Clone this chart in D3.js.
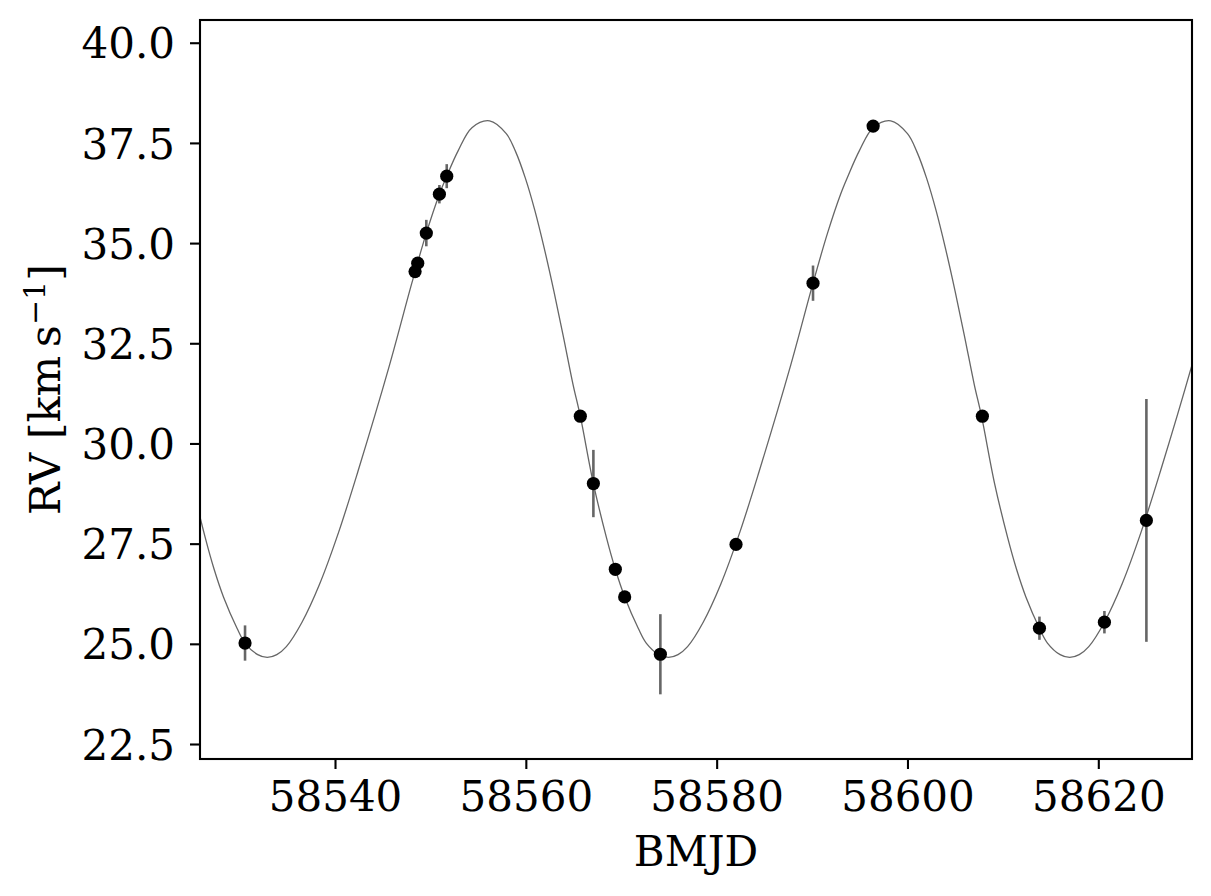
<!DOCTYPE html>
<html>
<head>
<meta charset="utf-8">
<script src="https://cdn.jsdelivr.net/npm/d3@7"></script>
<style>
  body { margin: 0; background: #fff; }
  svg { display: block; }
  text { font-family: "DejaVu Serif", serif; fill: #000; }
</style>
</head>
<body>
<div id="chart"></div>
<script>
// observations
const bmjd = [58530.57, 58548.39, 58548.67, 58549.57, 58550.94, 58551.71, 58565.71, 58567.08, 58569.38,
              58570.36, 58574.10, 58582.03, 58590.10, 58596.40, 58607.85, 58613.83, 58620.64, 58625.04];
const rv   = [25.02, 34.29, 34.50, 35.25, 36.22, 36.67, 30.68, 29.00, 26.86,
              26.17, 24.74, 27.48, 34.00, 37.92, 30.68, 25.39, 25.54, 28.08];
const rvErr = [0.44, 0.10, 0.10, 0.33, 0.23, 0.30, 0.10, 0.84, 0.08,
               0.08, 1.00, 0.08, 0.44, 0.10, 0.10, 0.29, 0.28, 3.03];

// model curve
const modelT = [58523.66, 58525.03, 58526.40, 58527.33, 58528.31, 58529.73, 58530.57, 58531.90, 58532.90,
  58533.90, 58534.90, 58536.54, 58538.40, 58540.40, 58542.40, 58545.72, 58548.05, 58549.57,
  58550.94, 58551.71, 58552.90, 58554.35, 58556.20,
  58557.95, 58558.95, 58559.95, 58560.95, 58561.95, 58562.95, 58563.95, 58564.95, 58565.71, 58567.08,
  58568.45, 58569.38, 58570.36, 58571.78, 58572.62, 58573.95, 58574.95,
  58575.95, 58576.95, 58578.59, 58580.45, 58582.45, 58584.45, 58587.77, 58590.10, 58591.62,
  58592.99, 58593.76, 58594.95, 58596.40, 58598.25,
  58600.00, 58601.00, 58602.00, 58603.00, 58604.00, 58605.00, 58606.00, 58607.00, 58607.76, 58609.13,
  58610.50, 58611.43, 58612.41, 58613.83, 58614.67, 58616.00, 58617.00,
  58618.00, 58619.00, 58620.64, 58622.50, 58624.50, 58626.50, 58629.82, 58632.15];
const modelRV = [30.68, 29.00, 27.65, 26.86, 26.17, 25.39, 25.02, 24.73, 24.66,
  24.73, 24.93, 25.54, 26.50, 27.80, 29.30, 31.96, 34.00, 35.25,
  36.22, 36.67, 37.30, 37.88, 38.05,
  37.73, 37.27, 36.62, 35.81, 34.85, 33.79, 32.65, 31.47, 30.68, 29.00,
  27.65, 26.86, 26.17, 25.39, 25.02, 24.73, 24.66,
  24.73, 24.93, 25.54, 26.50, 27.80, 29.30, 31.96, 34.00, 35.25,
  36.22, 36.67, 37.30, 37.88, 38.05,
  37.73, 37.27, 36.62, 35.81, 34.85, 33.79, 32.65, 31.47, 30.68, 29.00,
  27.65, 26.86, 26.17, 25.39, 25.02, 24.73, 24.66,
  24.73, 24.93, 25.54, 26.50, 27.80, 29.30, 31.96, 34.00];

const xTicks = [58540, 58560, 58580, 58600, 58620];
const yTicks = [22.5, 25.0, 27.5, 30.0, 32.5, 35.0, 37.5, 40.0];

const width = 1211, height = 896;
const margin = { top: 20, right: 19, bottom: 137, left: 200 };

const svg = d3.select('#chart')
    .append('svg')
    .attr('width', width)
    .attr('height', height);

let x = d3.scaleLinear()
    .domain([58525.85, 58629.82])
    .range([margin.left, width - margin.right]);

let y = d3.scaleLinear()
    .domain([22.126, 40.567])
    .range([height - margin.bottom, margin.top]);

svg.append('clipPath')
    .attr('id', 'plot-clip')
    .append('rect')
    .attr('x', margin.left)
    .attr('y', margin.top)
    .attr('width', width - margin.left - margin.right)
    .attr('height', height - margin.top - margin.bottom);

let plot = svg.append('g').attr('clip-path', 'url(#plot-clip)');

// model
let line = d3.line()
    .x(function (d) { return x(d[0]); })
    .y(function (d) { return y(d[1]); })
    .curve(d3.curveCatmullRom.alpha(0.5));

plot.append('path')
    .datum(d3.zip(modelT, modelRV))
    .attr('d', line)
    .attr('fill', 'none')
    .attr('stroke', '#666')
    .attr('stroke-width', 1.3);

let points = d3.range(bmjd.length).map(function (i) {
    return { t: bmjd[i], v: rv[i], e: rvErr[i] };
});

// error bars
plot.selectAll('line.err')
    .data(points)
    .enter()
    .append('line')
    .attr('class', 'err')
    .attr('x1', function (d) { return x(d.t); })
    .attr('x2', function (d) { return x(d.t); })
    .attr('y1', function (d) { return y(d.v - d.e); })
    .attr('y2', function (d) { return y(d.v + d.e); })
    .attr('stroke', '#666')
    .attr('stroke-width', 2.6);

plot.selectAll('circle')
    .data(points)
    .enter()
    .append('circle')
    .attr('cx', function (d) { return x(d.t); })
    .attr('cy', function (d) { return y(d.v); })
    .attr('r', 6.6)
    .attr('fill', '#000');

// axes
let xAxis = d3.axisBottom(x)
    .tickValues(xTicks)
    .tickFormat(d3.format('d'))
    .tickSizeOuter(0)
    .tickSize(10)
    .tickPadding(10);

let yAxis = d3.axisLeft(y)
    .tickValues(yTicks)
    .tickFormat(d3.format('.1f'))
    .tickSizeOuter(0)
    .tickSize(10)
    .tickPadding(15);

let gx = svg.append('g')
    .attr('transform', 'translate(0,' + (height - margin.bottom) + ')')
    .call(xAxis);

let gy = svg.append('g')
    .attr('transform', 'translate(' + margin.left + ',0)')
    .call(yAxis);

[gx, gy].forEach(function (g) {
    g.select('.domain').remove();
    g.selectAll('.tick line').attr('stroke', '#000').attr('stroke-width', 2.1);
    g.selectAll('.tick text')
        .attr('font-size', 42)
        .style('font-family', '"DejaVu Serif", serif')
        .attr('fill', '#000');
});
gx.selectAll('.tick text').attr('dy', '0.76em');
gy.selectAll('.tick text').attr('dy', '0.36em');

// frame
svg.append('rect')
    .attr('x', margin.left)
    .attr('y', margin.top)
    .attr('width', width - margin.left - margin.right)
    .attr('height', height - margin.top - margin.bottom)
    .attr('fill', 'none')
    .attr('stroke', '#000')
    .attr('stroke-width', 2.1);

// labels
svg.append('text')
    .attr('x', (margin.left + width - margin.right) / 2)
    .attr('y', 866)
    .attr('text-anchor', 'middle')
    .attr('font-size', 42)
    .text('BMJD');

let ylab = svg.append('text')
    .attr('transform', 'translate(60,' + ((margin.top + height - margin.bottom) / 2) + ') rotate(-90)')
    .attr('text-anchor', 'middle')
    .attr('font-size', 43);
ylab.append('tspan').text('RV [km\u2009s');
ylab.append('tspan').attr('dy', -15).attr('font-size', 30).text('\u22121');
ylab.append('tspan').attr('dy', 15).text(']');
</script>
</body>
</html>
